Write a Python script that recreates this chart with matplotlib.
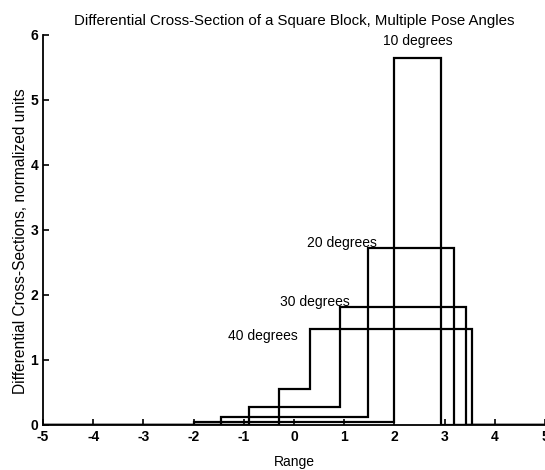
import matplotlib
matplotlib.use("Agg")
import matplotlib.pyplot as plt

plt.rcParams['font.family'] = ['Liberation Sans', 'DejaVu Sans']
plt.rcParams['axes.unicode_minus'] = False

# pose angles and their step edges / levels
angles = ["10 degrees", "20 degrees", "30 degrees", "40 degrees"]
edges_10 = [-5, -2.0, 2.0, 2.92, 5]
levels_10 = [0, 0.05, 5.65, 0]
edges_20 = [-5, -1.45, 1.48, 3.19, 5]
levels_20 = [0, 0.12, 2.72, 0]
edges_30 = [-5, -0.9, 0.91, 3.42, 5]
levels_30 = [0, 0.28, 1.81, 0]
edges_40 = [-5, -0.3, 0.32, 3.54, 5]
levels_40 = [0, 0.55, 1.47, 0]

label_x = [1.77, 0.26, -0.28, -1.31]
label_y = [5.9, 2.8, 1.89, 1.37]

fig = plt.figure(figsize=(5.45, 4.7), dpi=100)
ax = fig.add_axes([0.079, 0.096, 0.921, 0.83])

for e, v in [(edges_10, levels_10), (edges_20, levels_20),
             (edges_30, levels_30), (edges_40, levels_40)]:
    ax.stairs(v, e, color="black", lw=1.6)

for name, x, y in zip(angles, label_x, label_y):
    ax.text(x, y, name, fontsize=10, va="center", ha="left")

ax.set_xlim(-5, 5)
ax.set_ylim(0, 6)
ax.set_xticks(range(-5, 6))
ax.set_yticks(range(0, 7))
ax.spines['top'].set_visible(False)
ax.spines['right'].set_visible(False)
ax.spines['left'].set_linewidth(1.3)
ax.spines['bottom'].set_linewidth(1.3)
ax.tick_params(direction="in", length=4, width=1.2, labelsize=10)
for t in ax.get_xticklabels() + ax.get_yticklabels():
    t.set_fontweight("bold")

ax.set_title("Differential Cross-Section of a Square Block, Multiple Pose Angles",
             fontsize=10.8, pad=7)
ax.set_xlabel("Range", fontsize=10, labelpad=8)
ax.set_ylabel("Differential Cross-Sections, normalized units", fontsize=11.2)
ax.yaxis.set_label_coords(-0.044, 0.47)
ax.yaxis.label.set_va("center")

fig.savefig("out.png", dpi=100)
